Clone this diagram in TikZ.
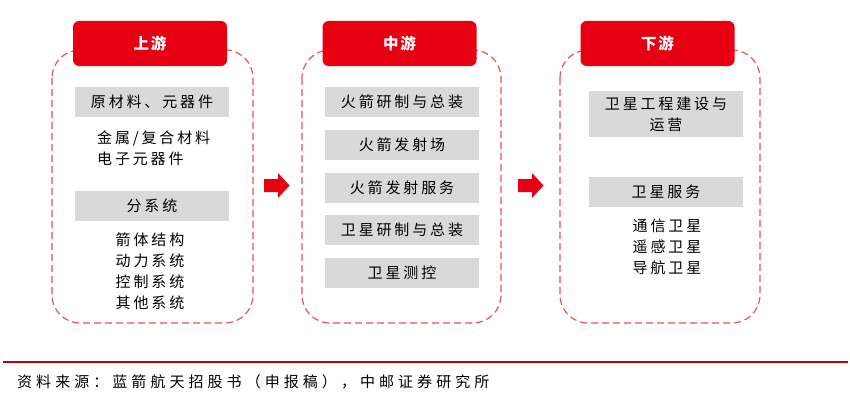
\documentclass[tikz,border=0pt]{standalone}
\usepackage{fontspec}
\setmainfont{Noto Sans CJK SC}[LetterSpace=19]
\newfontfamily\hdfont{Noto Sans CJK SC}[LetterSpace=10]
\newfontfamily\srcfont{Noto Sans CJK SC}[LetterSpace=27]
\definecolor{hdred}{HTML}{E60012}
\definecolor{dashred}{HTML}{E8505B}
\definecolor{boxgray}{HTML}{D9D9D9}
\definecolor{linered}{HTML}{C00000}
\begin{document}
\begin{tikzpicture}[x=1pt,y=-1pt,
  frame/.style={draw=dashred,line width=1.2pt,dash pattern=on 7pt off 4pt,rounded corners=28pt},
  header/.style={fill=hdred,rounded corners=6pt,minimum width=154pt,minimum height=45pt,text=white,font=\hdfont\fontsize{15.5}{18}\selectfont\bfseries,inner sep=0pt},
  graybox/.style={fill=boxgray,minimum width=154pt,minimum height=30pt,font=\fontsize{15}{21}\selectfont,inner sep=0pt,align=center},
  plain/.style={font=\fontsize{15}{21}\selectfont,inner sep=0pt,align=left},
  bigarrow/.style={fill=hdred}]
\useasboundingbox (0,0) rectangle (850,404);
% frames
\draw[frame] (52,50) rectangle (253,323);
\draw[frame] (302,50) rectangle (501,323);
\draw[frame] (560,50) rectangle (760,323);
% headers
\node[header] (h1) at (150,43.5) {上游};
\node[header] (h2) at (399.5,43.5) {中游};
\node[header] (h3) at (657.5,43.5) {下游};
% upstream
\node[graybox] (u1) at (152,102) {原材料、元器件};
\node[plain,anchor=west] (u1t) at (97,148.5) {金属/复合材料\\电子元器件};
\node[graybox] (u2) at (152,206) {分系统};
\node[plain,align=center] (u2t) at (150,271) {箭体结构\\动力系统\\控制系统\\其他系统};
% midstream
\node[graybox] (m1) at (402,102) {火箭研制与总装};
\node[graybox] (m2) at (402,144.5) {火箭发射场};
\node[graybox] (m3) at (402,187.5) {火箭发射服务};
\node[graybox] (m4) at (402,230) {卫星研制与总装};
\node[graybox] (m5) at (402,273) {卫星测控};
% downstream
\node[graybox,minimum height=46pt] (d1) at (666,114) {卫星工程建设与\\运营};
\node[graybox] (d2) at (666,191.5) {卫星服务};
\node[plain,align=center] (d2t) at (667,247) {通信卫星\\遥感卫星\\导航卫星};
% arrows
\fill[bigarrow] (264,179) -- (278,179) -- (278,173) -- (289.5,185.5) -- (278,198) -- (278,192) -- (264,192) -- cycle;
\fill[bigarrow] (518,179) -- (532,179) -- (532,173) -- (543.5,185.5) -- (532,198) -- (532,192) -- (518,192) -- cycle;
% footer
\coordinate (fl) at (3,362);
\coordinate (fr) at (848,362);
\draw[linered,line width=1.2pt] (fl) -- (fr);
\node[font=\srcfont\fontsize{15}{18}\selectfont,anchor=west,inner sep=0pt] (src) at (17,382) {资料来源：蓝箭航天招股书（申报稿），中邮证券研究所};
\end{tikzpicture}
\end{document}
